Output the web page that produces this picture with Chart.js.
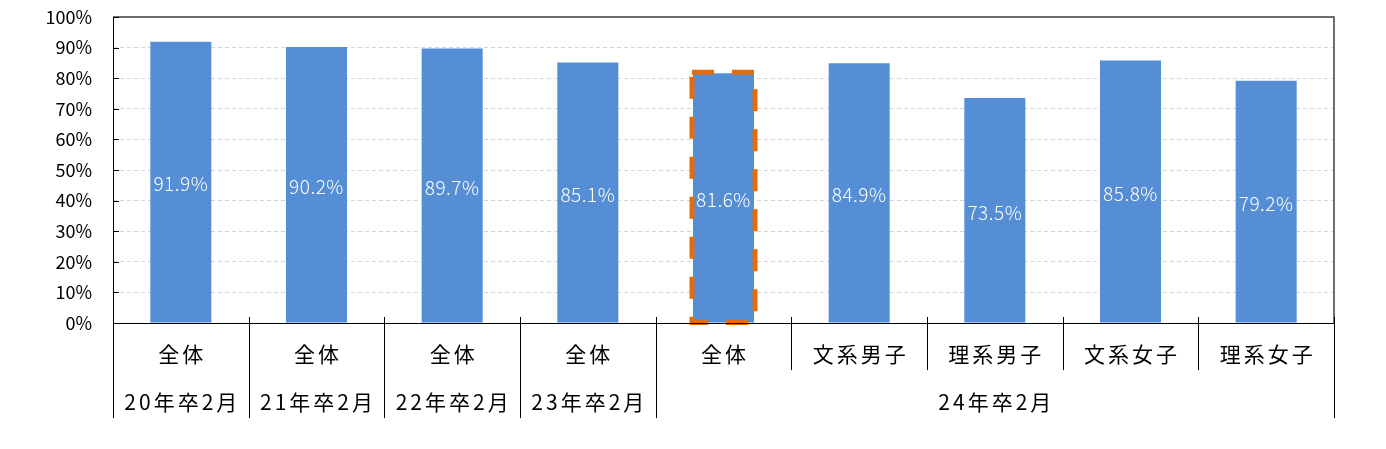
<!DOCTYPE html>
<html>
<head>
<meta charset="utf-8">
<script src="https://cdn.jsdelivr.net/npm/chart.js@4"></script>
<style>
  html, body { margin: 0; padding: 0; background: #fff; }
  canvas { display: block; }
</style>
</head>
<body>
<canvas id="chart" width="1386" height="449"></canvas>
<script>
const categories = ['全体', '全体', '全体', '全体', '全体', '文系男子', '理系男子', '文系女子', '理系女子'];
const groupLabels = ['20年卒2月', '21年卒2月', '22年卒2月', '23年卒2月', '24年卒2月'];
const groupSpans = [1, 1, 1, 1, 5];
const values = [91.9, 90.2, 89.7, 85.1, 81.6, 84.9, 73.5, 85.8, 79.2];
const highlightIndex = 4;

const FONT = '"Noto Sans CJK JP", "Liberation Sans", sans-serif';

// labels inside bars, dashed box, axis box and two-row category labels
const drawExtras = {
  id: 'drawExtras',
  afterDatasetsDraw(chart) {
    const ctx = chart.ctx;
    const meta = chart.getDatasetMeta(0);
    ctx.save();
    ctx.fillStyle = '#fff';
    ctx.font = '300 19px ' + FONT;
    ctx.textAlign = 'center';
    ctx.textBaseline = 'middle';
    ctx.letterSpacing = '0.5px';
    meta.data.forEach((bar, i) => {
      ctx.fillText(values[i].toFixed(1) + '%', bar.x, (bar.y + bar.base) / 2 + 2);
    });

    const hb = meta.data[highlightIndex];
    ctx.strokeStyle = '#e46c0a';
    ctx.lineWidth = 5;
    ctx.setLineDash([22, 18]);
    ctx.strokeRect(hb.x - hb.width / 2 - 1, hb.y - 1, hb.width + 2, hb.base - hb.y + 1);
    ctx.restore();
  },
  afterDraw(chart) {
    const ctx = chart.ctx;
    const area = chart.chartArea;
    const x = chart.scales.x;
    const y = chart.scales.y;
    const n = categories.length;
    const catW = (area.right - area.left) / n;
    ctx.save();

    // top and right frame
    ctx.strokeStyle = '#404040';
    ctx.lineWidth = 1.5;
    ctx.beginPath();
    ctx.moveTo(area.left, area.top);
    ctx.lineTo(area.right, area.top);
    ctx.lineTo(area.right, area.bottom);
    ctx.stroke();

    // axes
    ctx.strokeStyle = '#000';
    ctx.lineWidth = 1;
    ctx.beginPath();
    ctx.moveTo(area.left + 0.5, area.top);
    ctx.lineTo(area.left + 0.5, area.bottom + 95);
    ctx.moveTo(area.left, area.bottom + 0.5);
    ctx.lineTo(area.right, area.bottom + 0.5);
    ctx.stroke();

    // inside tick marks on y axis
    ctx.beginPath();
    y.ticks.forEach(t => {
      const py = Math.round(y.getPixelForValue(t.value)) + 0.5;
      ctx.moveTo(area.left, py);
      ctx.lineTo(area.left + 6, py);
    });
    ctx.stroke();

    // separators between categories
    const longAt = [0];
    groupSpans.reduce((acc, s) => { longAt.push(acc + s); return acc + s; }, 0);
    ctx.beginPath();
    for (let i = 1; i <= n; i++) {
      const bx = Math.round(x.getPixelForValue(i - 1) + catW / 2) + 0.5;
      const len = longAt.includes(i) ? 95 : 47;
      ctx.moveTo(bx, area.bottom - 6);
      ctx.lineTo(bx, area.bottom + len);
    }
    ctx.stroke();

    // category row
    ctx.fillStyle = '#000';
    ctx.font = '21px ' + FONT;
    ctx.textAlign = 'center';
    ctx.textBaseline = 'middle';
    ctx.letterSpacing = '3px';
    categories.forEach((c, i) => {
      ctx.fillText(c, x.getPixelForValue(i) + 1.5, area.bottom + 31);
    });

    // group row
    let start = 0;
    groupLabels.forEach((g, gi) => {
      const end = start + groupSpans[gi] - 1;
      const cx = (x.getPixelForValue(start) + x.getPixelForValue(end)) / 2;
      ctx.fillText(g, cx + 1.5, area.bottom + 79);
      start = end + 1;
    });
    ctx.restore();
  }
};

new Chart(document.getElementById('chart'), {
  type: 'bar',
  data: {
    labels: categories,
    datasets: [{
      data: values,
      backgroundColor: '#558ed5',
      categoryPercentage: 1,
      barPercentage: 0.45
    }]
  },
  options: {
    responsive: false,
    animation: false,
    layout: { padding: { left: 0, right: 52, top: 17, bottom: 126 } },
    plugins: { legend: { display: false }, tooltip: { enabled: false } },
    scales: {
      x: { display: false },
      y: {
        min: 0,
        max: 100,
        afterFit: s => { s.width = 113; s.paddingTop = 0; s.paddingBottom = 0; },
        ticks: {
          stepSize: 10,
          padding: 21,
          color: '#000',
          font: { family: FONT, size: 18 },
          callback: v => v + '%'
        },
        grid: { color: '#d6d6d6', drawTicks: false },
        border: { display: false, dash: [4, 3] }
      }
    }
  },
  plugins: [drawExtras]
});
</script>
</body>
</html>
